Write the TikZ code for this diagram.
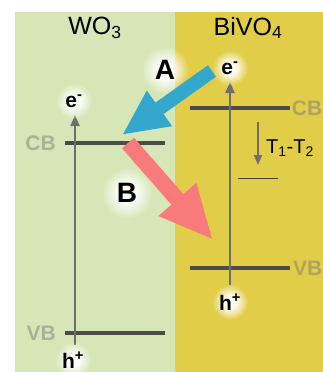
\documentclass[tikz,border=0pt]{standalone}
\usepackage{fontspec}
\setmainfont{Liberation Sans}
\usetikzlibrary{arrows.meta, fadings}
\definecolor{wogreen}{HTML}{D7E6B7}
\definecolor{bvyellow}{HTML}{E1CD48}
\definecolor{bandgray}{HTML}{4B4B4B}
\definecolor{axgray}{HTML}{6E6E6E}
\definecolor{xferblue}{HTML}{33A8CC}
\definecolor{xferred}{HTML}{F87A7A}
\pgfdeclareradialshading{glowshade}{\pgfpointorigin}{%
  color(0bp)=(pgftransparent!0); color(9bp)=(pgftransparent!10);
  color(25bp)=(pgftransparent!100); color(50bp)=(pgftransparent!100)}
\pgfdeclarefading{glowfade}{\pgfuseshading{glowshade}}
\tikzset{
  bandline/.style  = {draw=bandgray, line width=4pt},
  energyax/.style  = {draw=axgray, line width=2pt, -{Triangle[width=9pt, length=11pt]}},
  bandlab/.style   = {font=\bfseries\fontsize{21}{21}\selectfont, text=black!55,
                      text opacity=0.45, inner sep=0pt},
  matlab/.style    = {font=\fontsize{25}{25}\selectfont, inner sep=0pt},
  carrier/.style   = {font=\bfseries\fontsize{21}{21}\selectfont, inner sep=0pt},
  steplab/.style   = {font=\bfseries\fontsize{28}{28}\selectfont, inner sep=0pt},
  templab/.style   = {font=\fontsize{20}{20}\selectfont, inner sep=0pt, anchor=west},
}
\newcommand{\glowat}[2]{%
  \fill[white, path fading=glowfade] (#1) circle (#2);}

\begin{document}
\begin{tikzpicture}[x=1pt, y=-1pt]
  \useasboundingbox (0,0) rectangle (323,372);
  \fill[white] (0,0) rectangle (323,372);
  \fill[wogreen] (15,12) rectangle (175,372);
  \fill[bvyellow] (175,12) rectangle (323,372);
  % band edges
  \coordinate (wcbL) at (65,143);
  \coordinate (wcbR) at (165,143);
  \coordinate (wvbL) at (65,333);
  \coordinate (wvbR) at (165,333);
  \coordinate (bcbL) at (190,108);
  \coordinate (bcbR) at (290,108);
  \coordinate (bvbL) at (190,268);
  \coordinate (bvbR) at (290,268);
  \draw[bandline] (wcbL) -- (wcbR);
  \draw[bandline] (wvbL) -- (wvbR);
  \draw[bandline] (bcbL) -- (bcbR);
  \draw[bandline] (bvbL) -- (bvbR);
  \node[bandlab, anchor=east] (wcb) at (56,143) {CB};
  \node[bandlab, anchor=east] (wvb) at (56,333) {VB};
  \node[bandlab, anchor=east] (bcb) at (322.5,108) {CB};
  \node[bandlab, anchor=east] (bvb) at (322.5,268) {VB};
  \node[matlab] (wo) at (95,28) {WO\textsubscript{3}};
  \node[matlab] (bv) at (248,28) {BiVO\textsubscript{4}};
  % energy axes
  \coordinate (wbot) at (75,345);
  \coordinate (wtop) at (75,115);
  \coordinate (bbot) at (230,285);
  \coordinate (btop) at (230,82);
  \draw[energyax] (wbot) -- (wtop);
  \draw[energyax] (bbot) -- (btop);
  % temperature step
  \coordinate (ttop) at (258,122);
  \coordinate (tbot) at (258,165);
  \draw[draw=axgray, line width=1.6pt, -{Triangle[width=8pt, length=10pt]}] (ttop) -- (tbot);
  \node[templab] (tt) at (266,148) {T\textsubscript{1}-T\textsubscript{2}};
  \coordinate (tlL) at (238,178);
  \coordinate (tlR) at (278,178);
  \draw[draw=black!75, line width=1pt] (tlL) -- (tlR);
  % carriers
  \glowat{165,70}{24pt}
  \glowat{127,193}{26pt}
  \glowat{230,68}{18pt}
  \glowat{74,101}{18pt}
  \glowat{73,360}{18pt}
  \glowat{230,302}{18pt}
  \node[carrier] (ebv) at (230,68) {e\textsuperscript{-}};
  \node[carrier] (ewo) at (74,101) {e\textsuperscript{-}};
  \node[carrier] (hwo) at (73,360) {h\textsuperscript{+}};
  \node[carrier] (hbv) at (230,302) {h\textsuperscript{+}};
  % transfer steps
  \coordinate (Bs) at (128,143);
  \coordinate (Be) at (213,240);
  \coordinate (As) at (212,71);
  \coordinate (Ae) at (122,135);
  \draw[draw=xferred, line width=16pt, -{Triangle[width=46pt, length=54pt]}] (Bs) -- (Be);
  \draw[draw=xferblue, line width=14pt, -{Triangle[width=40pt, length=46pt]}] (As) -- (Ae);
  \node[steplab] (stA) at (165,70) {A};
  \node[steplab] (stB) at (127,193) {B};
\end{tikzpicture}
\end{document}
